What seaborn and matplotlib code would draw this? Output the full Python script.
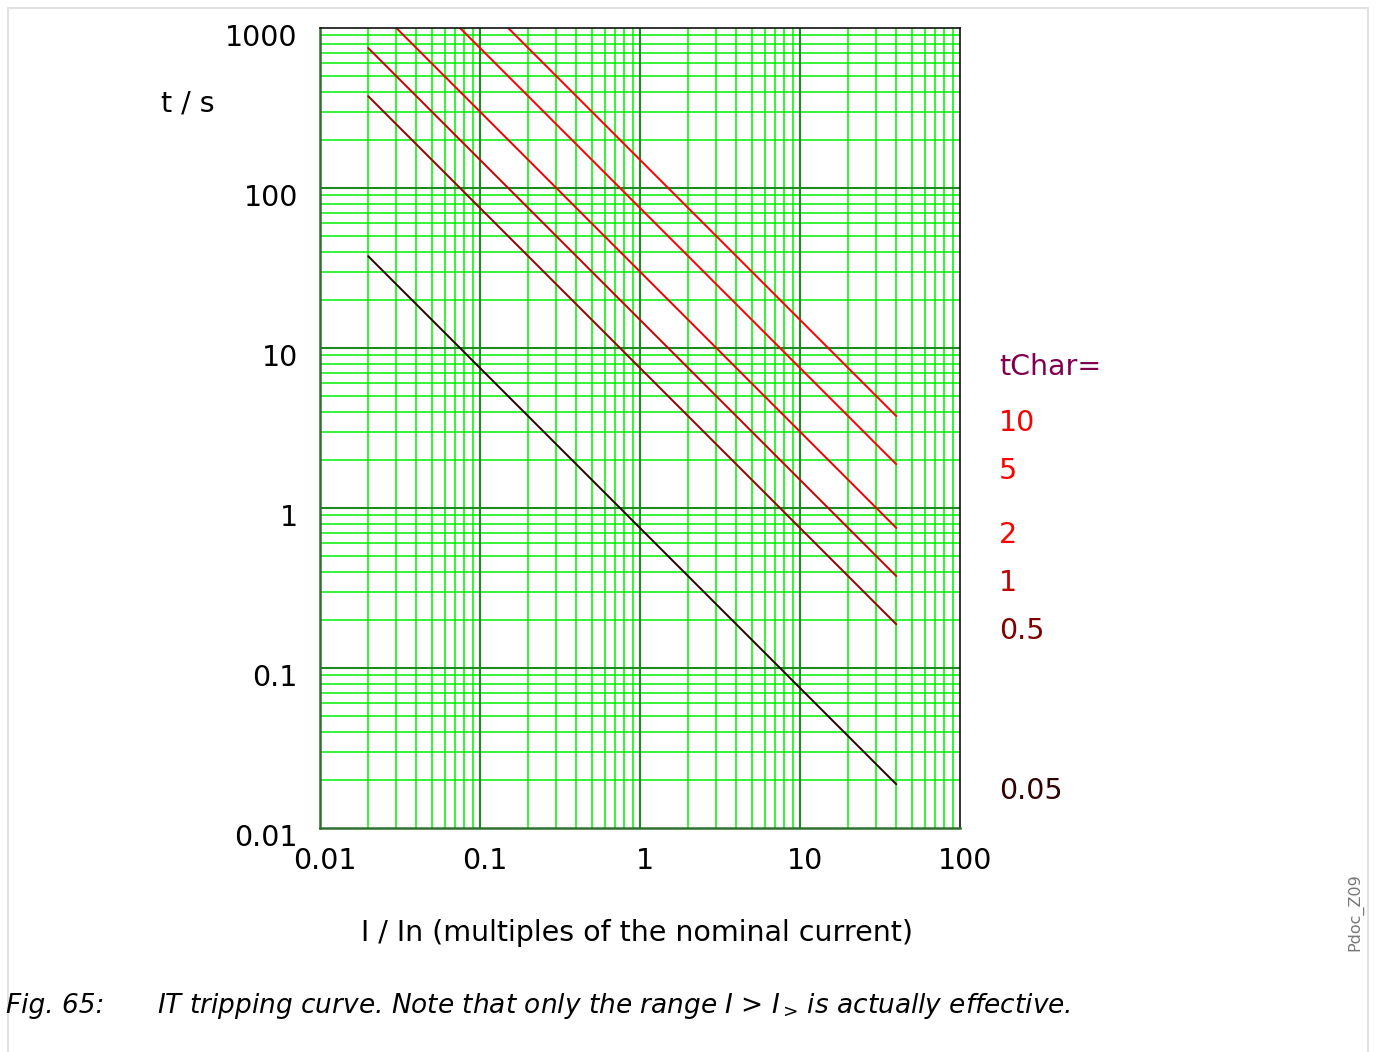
import numpy as np
import pandas as pd
import matplotlib
matplotlib.use("Agg")
import matplotlib.pyplot as plt
import matplotlib.transforms as mtransforms
from matplotlib.patches import Rectangle
import seaborn as sns

# curve end points (I / In, t / s)
tchar = ["10", "5", "2", "1", "0.5", "0.05"]
i_start = [0.15, 0.075, 0.03, 0.02, 0.02, 0.02]
t_start = [1000, 1000, 1000, 750, 375, 37.5]
i_end = [40, 40, 40, 40, 40, 40]
t_end = [3.75, 1.875, 0.75, 0.375, 0.1875, 0.01875]
line_colors = ["#ff0000", "#ff0000", "#ee0000", "#cc0000", "#990000", "#2a0000"]
label_colors = ["#ff0000", "#ff0000", "#ff0000", "#c00000", "#800000", "#300000"]
label_y = [423, 471, 535, 583, 631, 791]  # pixel rows of the tChar labels

x_ticks = [0.01, 0.1, 1, 10, 100]
x_ticklabels = ["0.01", "0.1", "1", "10", "100"]
y_ticks = [0.01, 0.1, 1, 10, 100, 1000]
y_ticklabels = ["0.01", "0.1", "1", "10", "100", "1000"]

rows = []
for k, name in enumerate(tchar):
    rows.append({"tchar": name, "I": i_start[k], "t": t_start[k]})
    rows.append({"tchar": name, "I": i_end[k], "t": t_end[k]})
df = pd.DataFrame(rows)

sns.set_style("white")
plt.rcParams["font.family"] = ["DejaVu Sans"]
plt.rcParams["text.color"] = "black"

FS = 20.5
W, H = 1377, 1052
fig = plt.figure(figsize=(W / 100, H / 100), dpi=100)
ax = fig.add_axes([320 / W, 1 - 828 / H, 640 / W, 800 / H])
ax.set_xscale("log")
ax.set_yscale("log")
ax.set_xlim(0.01, 100)
ax.set_ylim(0.01, 1000)

# grid: minor bright green, major dark green
for dec in [0.01, 0.1, 1, 10]:
    for m in range(2, 10):
        ax.axvline(dec * m, color="#00f000", lw=1.1, zorder=1)
for dec in [0.01, 0.1, 1, 10, 100]:
    for m in range(2, 10):
        ax.axhline(dec * m, color="#00f000", lw=1.1, zorder=1)
for v in x_ticks[1:-1]:
    ax.axvline(v, color="#1f8a1f", lw=1.5, zorder=1.5)
for v in y_ticks[1:-1]:
    ax.axhline(v, color="#1f8a1f", lw=1.5, zorder=1.5)

sns.lineplot(data=df, x="I", y="t", hue="tchar", hue_order=tchar,
             palette=dict(zip(tchar, line_colors)), estimator=None,
             sort=False, units="tchar", legend=False, lw=1.4, ax=ax, zorder=3)
ax.set_xlabel("")
ax.set_ylabel("")

for side in ["top", "right"]:
    ax.spines[side].set_color("#111111")
    ax.spines[side].set_linewidth(1.2)
for side in ["left", "bottom"]:
    ax.spines[side].set_color("#2f6f2f")
    ax.spines[side].set_linewidth(1.8)
for s in ax.spines.values():
    s.set_zorder(4)

ax.set_xticks(x_ticks)
ax.set_xticklabels(x_ticklabels)
ax.set_yticks(y_ticks)
ax.set_yticklabels(y_ticklabels)
ax.minorticks_off()
ax.tick_params(axis="both", length=0, labelsize=FS, colors="black")
ax.tick_params(axis="y", pad=16)
ax.tick_params(axis="x", pad=14)
dx = mtransforms.ScaledTranslation(5 / 100, 0, fig.dpi_scale_trans)
dy = mtransforms.ScaledTranslation(0, -7 / 100, fig.dpi_scale_trans)
for lab in ax.get_xticklabels():
    lab.set_transform(lab.get_transform() + dx)
for lab in ax.get_yticklabels():
    lab.set_transform(lab.get_transform() + dy)

# texts placed in pixel coordinates
def px(x, y):
    return x / W, 1 - y / H

fig.text(*px(188, 103), "t / s", fontsize=FS, ha="center", va="center")
fig.text(*px(637, 933), "I / In (multiples of the nominal current)",
         fontsize=FS, ha="center", va="center")
fig.text(*px(999, 367), "tChar=", fontsize=FS, color="#800050",
         ha="left", va="center")
for k, name in enumerate(tchar):
    fig.text(*px(999, label_y[k]), name, fontsize=FS, color=label_colors[k],
             ha="left", va="center")

fig.text(*px(6, 1006), "Fig. 65:", fontsize=19, style="italic",
         ha="left", va="center")
fig.text(*px(157, 1006),
         r"IT tripping curve. Note that only the range $I$ > $I_{>}\,$is actually effective.",
         fontsize=19, style="italic", ha="left", va="center")
fig.text(*px(1355, 912), "Pdoc_Z09", fontsize=11.5, color="#777777",
         rotation=90, ha="center", va="center")

fig.patches.append(Rectangle(px(8, 1060), 1360 / W, 1052 / H,
                             transform=fig.transFigure, fill=False,
                             edgecolor="#e2e2e2", lw=1.5))

fig.savefig("out.png", dpi=100)
